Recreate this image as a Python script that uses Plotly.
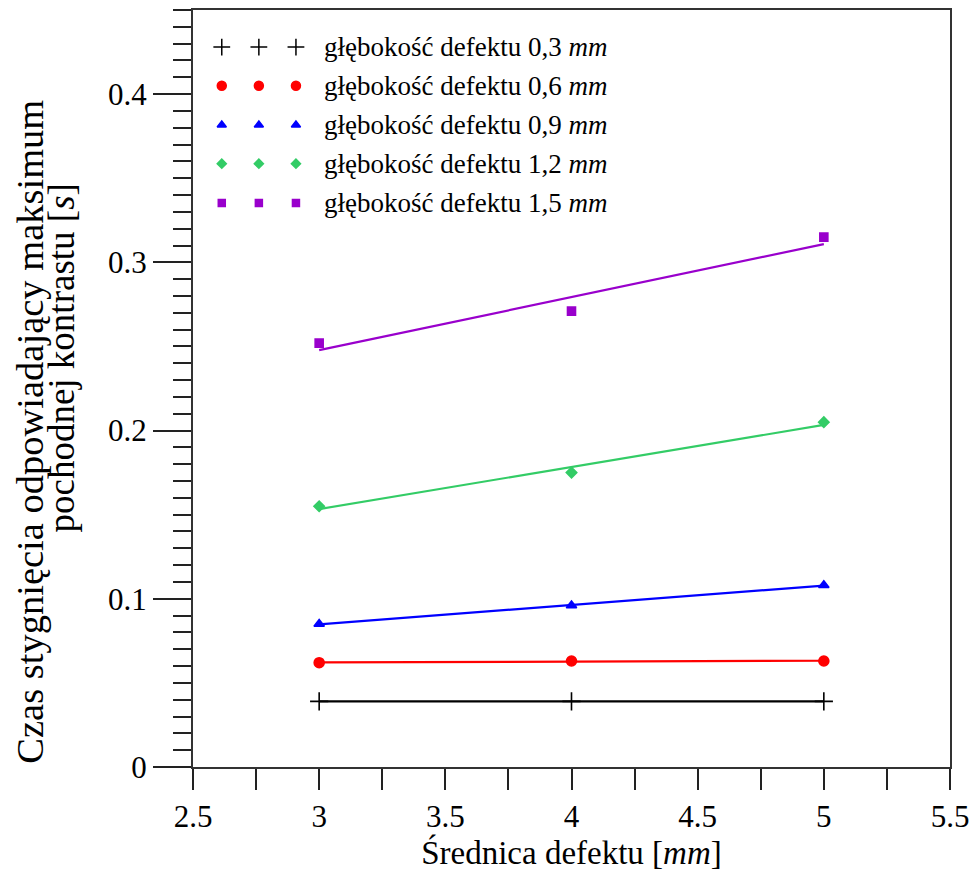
import numpy as np
import plotly.graph_objects as go

# ---- data ----
diameters = [3, 4, 5]
depth_labels = ["0,3", "0,6", "0,9", "1,2", "1,5"]
t_03 = [0.039, 0.039, 0.039]
t_06 = [0.062, 0.063, 0.063]
t_09 = [0.085, 0.096, 0.108]
t_12 = [0.155, 0.175, 0.205]
t_15 = [0.252, 0.271, 0.315]
x_ticks = [2.5, 3, 3.5, 4, 4.5, 5, 5.5]
y_ticks = [0, 0.1, 0.2, 0.3, 0.4]

series = [t_03, t_06, t_09, t_12, t_15]
colors = ["#000000", "#ff0000", "#0000ff", "#33cc66", "#9900cc"]
symbols = ["cross-thin", "circle", "triangle-up", "diamond", "square"]
msizes = [13, 10, 9, 8, 8]
leg_sizes = [12, 9, 8, 7, 7]

FONT = "Liberation Serif"
fig = go.Figure()

for vals, col, sym, ms in zip(series, colors, symbols, msizes):
    k, b = np.polyfit(diameters, vals, 1)
    xf = [min(diameters), max(diameters)]
    fig.add_trace(go.Scatter(x=xf, y=[k * v + b for v in xf], mode="lines",
                             line=dict(color=col, width=2.2), showlegend=False,
                             hoverinfo="skip"))
    fig.add_trace(go.Scatter(x=diameters, y=vals, mode="markers",
                             marker=dict(symbol=sym, size=ms, color=col,
                                         line=dict(color=col, width=1.6)),
                             showlegend=False))

# ---- custom legend (three markers + label per row) on a hidden overlay axis ----
leg_x = [0.038, 0.087, 0.136]
leg_y = [0.951, 0.900, 0.848, 0.797, 0.745]
for lab, col, sym, ms, ly in zip(depth_labels, colors, symbols, leg_sizes, leg_y):
    fig.add_trace(go.Scatter(x=leg_x, y=[ly] * 3, xaxis="x2", yaxis="y2",
                             mode="markers",
                             marker=dict(symbol=sym, size=ms, color=col,
                                         line=dict(color=col, width=1.5)),
                             showlegend=False, hoverinfo="skip"))
    fig.add_annotation(xref="paper", yref="paper", x=0.170, y=ly, xanchor="left",
                       yanchor="middle", showarrow=False,
                       text=f"głębokość defektu {lab} <i>mm</i>",
                       font=dict(family=FONT, size=27, color="black"))

axis_common = dict(showline=True, linecolor="#333333", linewidth=2, mirror=True,
                   ticks="outside", tickcolor="#222222", tickwidth=1.5,
                   showgrid=False, zeroline=False, automargin=False,
                   tickfont=dict(family=FONT, size=31, color="black"))

fig.update_layout(
    width=972, height=874,
    margin=dict(l=193, r=22, t=10, b=107),
    paper_bgcolor="white", plot_bgcolor="white",
    xaxis=dict(range=[2.5, 5.5], tickvals=x_ticks, ticktext=[f"{v:g}" for v in x_ticks],
               ticklen=21,
               minor=dict(dtick=0.25, ticks="outside", ticklen=21, tickcolor="#222222",
                          tickwidth=1.5),
               title=dict(text="Średnica defektu [<i>mm</i>]", standoff=4,
                          font=dict(family=FONT, size=33, color="black")),
               **axis_common),
    yaxis=dict(range=[0, 0.45], tickvals=y_ticks, ticktext=[f"{v:g}" for v in y_ticks],
               ticklen=38,
               minor=dict(dtick=0.01, ticks="outside", ticklen=18, tickcolor="#222222",
                          tickwidth=1.5),
               **axis_common),
    xaxis2=dict(overlaying="x", range=[0, 1], visible=False),
    yaxis2=dict(overlaying="y", range=[0, 1], visible=False),
)

# two-line y-axis title as rotated annotations
fig.add_annotation(xref="paper", yref="paper", x=-0.2153, y=0.443, xanchor="center",
                   yanchor="middle", textangle=-90, showarrow=False,
                   text="Czas stygnięcia odpowiadający maksimum",
                   font=dict(family=FONT, size=38.5, color="black"))
fig.add_annotation(xref="paper", yref="paper", x=-0.174, y=0.54, xanchor="center",
                   yanchor="middle", textangle=-90, showarrow=False,
                   text="pochodnej kontrastu [<i>s</i>]",
                   font=dict(family=FONT, size=37, color="black"))

fig.write_html("out.html")
